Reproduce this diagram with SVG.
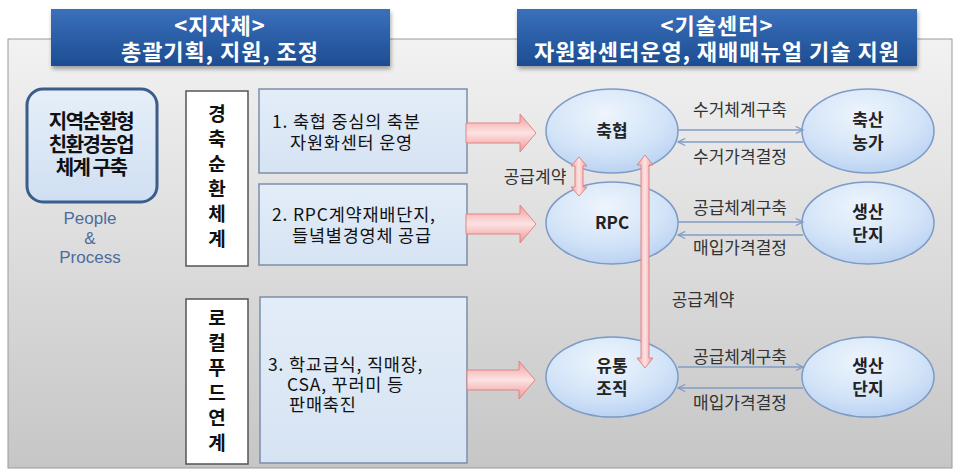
<svg xmlns="http://www.w3.org/2000/svg" width="955" height="470" viewBox="0 0 955 470">
<defs>
<linearGradient id="gPanel" x1="0" y1="0" x2="0" y2="1">
<stop offset="0" stop-color="#f2f2f2"/>
<stop offset="1" stop-color="#c6c6c6"/>
</linearGradient>
<linearGradient id="gHead" x1="0" y1="0" x2="0" y2="1">
<stop offset="0" stop-color="#3a70bb"/>
<stop offset="1" stop-color="#1c4d92"/>
</linearGradient>
<linearGradient id="gBox" x1="0" y1="0" x2="0" y2="1">
<stop offset="0" stop-color="#e3edf8"/>
<stop offset="1" stop-color="#d6e3f3"/>
</linearGradient>
<linearGradient id="gRound" x1="0" y1="0" x2="0" y2="1">
<stop offset="0" stop-color="#e6eff9"/>
<stop offset="1" stop-color="#cfdff2"/>
</linearGradient>
<radialGradient id="gEll" cx="0.45" cy="0.3" r="0.75">
<stop offset="0" stop-color="#eef5fd"/>
<stop offset="0.6" stop-color="#d3e4f8"/>
<stop offset="1" stop-color="#b6cff0"/>
</radialGradient>
<linearGradient id="gRedH" x1="0" y1="0" x2="0" y2="1">
<stop offset="0" stop-color="#f29c9c"/>
<stop offset="0.5" stop-color="#fde3e3"/>
<stop offset="1" stop-color="#f09595"/>
</linearGradient>
<linearGradient id="gRedV" x1="0" y1="0" x2="1" y2="0">
<stop offset="0" stop-color="#f29c9c"/>
<stop offset="0.5" stop-color="#fde3e3"/>
<stop offset="1" stop-color="#f09595"/>
</linearGradient>
<filter id="shadow" x="-5%" y="-20%" width="110%" height="150%">
<feDropShadow dx="1" dy="3" stdDeviation="2" flood-color="#000" flood-opacity="0.35"/>
</filter>
<marker id="open" viewBox="0 0 10 10" refX="9" refY="5" markerWidth="9" markerHeight="9" orient="auto-start-reverse" markerUnits="userSpaceOnUse">
<path d="M1,1 L9,5 L1,9" fill="none" stroke="#7f9cc4" stroke-width="1.3"/>
</marker>
</defs>
<style>
text{font-family:"Noto Sans CJK KR","Noto Sans",sans-serif;}
.head{fill:url(#gHead);filter:url(#shadow);}
.htxt{fill:#fff;font-weight:bold;font-size:22px;letter-spacing:1px;text-anchor:middle;}
.box{fill:url(#gBox);stroke:#7b8ea8;stroke-width:1.5;}
.vbox{fill:#fff;stroke:#555;stroke-width:1.5;}
.vtxt{font-weight:bold;font-size:19px;fill:#111;writing-mode:vertical-rl;text-orientation:upright;letter-spacing:6px;}
.btxt{font-size:17.5px;letter-spacing:0.8px;fill:#111;}
.ell{fill:url(#gEll);stroke:#7d9bc6;stroke-width:1.5;}
.etxt{font-weight:bold;font-size:17px;text-anchor:middle;fill:#222;}
.lbl{font-size:17px;text-anchor:middle;fill:#333;}
.thin{stroke:#7f9cc4;stroke-width:1.3;fill:none;marker-end:url(#open);}
.redh{fill:url(#gRedH);stroke:#e08585;stroke-width:1;}
.redv{fill:url(#gRedV);stroke:#e08585;stroke-width:1;}
</style>

<rect x="8" y="39" width="944" height="429" fill="url(#gPanel)" stroke="#9a9a9a" stroke-width="1"/>

<g id="header-left">
<rect class="head" x="51" y="9" width="339" height="57"/>
<text class="htxt"><tspan x="220" y="34">&lt;지자체&gt;</tspan><tspan x="220" y="60">총괄기획, 지원, 조정</tspan></text>
</g>
<g id="header-right">
<rect class="head" x="517" y="9" width="400" height="57"/>
<text class="htxt"><tspan x="717" y="34">&lt;기술센터&gt;</tspan><tspan x="717" y="60">자원화센터운영, 재배매뉴얼 기술 지원</tspan></text>
</g>

<g id="goal">
<rect x="27" y="89" width="130" height="113" rx="16" ry="16" fill="url(#gRound)" stroke="#3b5d8a" stroke-width="3"/>
<text font-size="20" font-weight="bold" text-anchor="middle" letter-spacing="-1.5" fill="#111"><tspan x="91" y="129">지역순환형</tspan><tspan x="91" y="152">친환경농업</tspan><tspan x="91" y="175">체계 구축</tspan></text>
</g>
<g id="people-process">
<text font-family="'Liberation Sans',Arial,sans-serif" style="font-family:'Liberation Sans',Arial,sans-serif" font-size="17" text-anchor="middle" fill="#4c6c9c"><tspan x="90" y="224">People</tspan><tspan x="90" y="243.5">&amp;</tspan><tspan x="90" y="263">Process</tspan></text>
</g>

<g id="cycle-label">
<rect class="vbox" x="186" y="91" width="62" height="175"/>
<text class="vtxt" x="217" y="104">경축순환체계</text>
</g>
<g id="local-label">
<rect class="vbox" x="186" y="299" width="62" height="165"/>
<text class="vtxt" x="217" y="308">로컬푸드연계</text>
</g>

<g id="task1">
<rect class="box" x="259" y="89" width="208" height="84"/>
<text class="btxt"><tspan x="272" y="128">1. 축협 중심의 축분</tspan><tspan x="290" y="149">자원화센터 운영</tspan></text>
</g>
<g id="task2">
<rect class="box" x="259" y="184" width="208" height="81"/>
<text class="btxt"><tspan x="272" y="221">2. RPC계약재배단지,</tspan><tspan x="292" y="242">들녘별경영체 공급</tspan></text>
</g>
<g id="task3">
<rect class="box" x="260" y="297" width="207" height="166"/>
<text class="btxt"><tspan x="268" y="371">3. 학교급식, 직매장,</tspan><tspan x="287" y="391">CSA, 꾸러미 등</tspan><tspan x="289" y="411">판매축진</tspan></text>
</g>

<g id="chukhyup">
<ellipse class="ell" cx="612" cy="131" rx="66" ry="42"/>
<text class="etxt" x="612" y="137">축협</text>
</g>
<g id="rpc">
<ellipse class="ell" cx="612" cy="223" rx="66" ry="41"/>
<text class="etxt" x="612" y="229">RPC</text>
</g>
<g id="distribution">
<ellipse class="ell" cx="612" cy="377" rx="66" ry="40"/>
<text class="etxt"><tspan x="612" y="372">유통</tspan><tspan x="612" y="395">조직</tspan></text>
</g>
<g id="livestock-farm">
<ellipse class="ell" cx="868" cy="131" rx="66" ry="42"/>
<text class="etxt"><tspan x="868" y="126">축산</tspan><tspan x="868" y="149">농가</tspan></text>
</g>
<g id="production1">
<ellipse class="ell" cx="868" cy="223" rx="66" ry="41"/>
<text class="etxt"><tspan x="868" y="218">생산</tspan><tspan x="868" y="241">단지</tspan></text>
</g>
<g id="production2">
<ellipse class="ell" cx="868" cy="377" rx="66" ry="40"/>
<text class="etxt"><tspan x="868" y="372">생산</tspan><tspan x="868" y="395">단지</tspan></text>
</g>

<g id="connectors">
<path class="redh" d="M466,123 H520 V114 L536,133 L520,152 V143 H466 Z"/>
<path class="redh" d="M466,214 H520 V205 L536,224 L520,243 V234 H466 Z"/>
<path class="redh" d="M467,370 H519 V361 L535,380 L519,399 V390 H467 Z"/>
<path class="redv" d="M579,157 L587,166 H583 V187 H587 L579,196 L571,187 H575 V166 H571 Z"/>
<path class="redv" d="M645,155 L653,165 H649 V358 H653 L645,368 L637,358 H641 V165 H637 Z"/>
<text class="lbl" x="535" y="183">공급계약</text>
<text class="lbl" x="703" y="306">공급계약</text>

<line class="thin" x1="678" y1="130" x2="803" y2="130"/>
<line class="thin" x1="803" y1="142" x2="678" y2="142"/>
<text class="lbl" x="740" y="116">수거체계구축</text>
<text class="lbl" x="740" y="163">수거가격결정</text>

<line class="thin" x1="678" y1="222" x2="803" y2="222"/>
<line class="thin" x1="803" y1="235" x2="678" y2="235"/>
<text class="lbl" x="740" y="214">공급체계구축</text>
<text class="lbl" x="740" y="254">매입가격결정</text>

<line class="thin" x1="678" y1="367" x2="803" y2="367"/>
<line class="thin" x1="803" y1="388" x2="678" y2="388"/>
<text class="lbl" x="740" y="363">공급체계구축</text>
<text class="lbl" x="740" y="409">매입가격결정</text>
</g>
</svg>
